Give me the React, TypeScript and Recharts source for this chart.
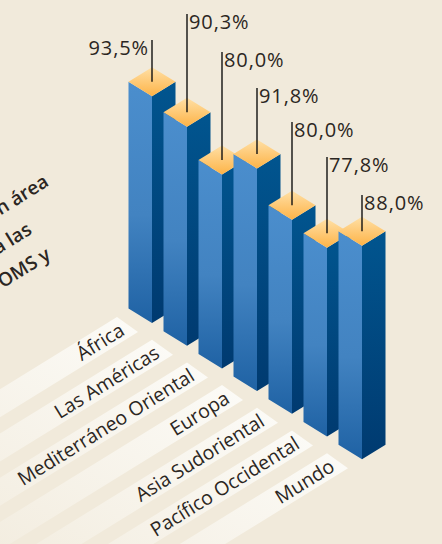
import { BarChart, Bar, XAxis, YAxis, LabelList } from "recharts";

const REGIONS = [
  "África",
  "Las Américas",
  "Mediterráneo Oriental",
  "Europa",
  "Asia Sudoriental",
  "Pacífico Occidental",
  "Mundo",
];
const VALUES = [93.5, 90.3, 80.0, 91.8, 80.0, 77.8, 88.0];
const TITLE_LINES = ["en área", "a las", "OMS y"];

const FONT = "'Open Sans', sans-serif";
const INK = "#2b2622";
const STEP_Y = 22.7; // each column sits lower than the previous one
const BASE_Y = 323;
const SLOPE = 0.617;
const ANGLE = -31.7;
// y where each leader line ends above its column
const LEADER_TOPS = [40, 14, 52, 88, 122, 157, 195];

const data = REGIONS.map((name, i) => ({ name, value: VALUES[i] }));

function IsoColumn(props: any) {
  const { x, y, width, height, index } = props;
  const cx = x + width / 2;
  const half = 23.5;
  const rise = half * SLOPE;
  const dy = index * STEP_Y;
  const top = y + dy;
  const bottom = y + height + dy;
  return (
    <g>
      <polygon
        points={`${cx - half},${top - rise} ${cx},${top} ${cx},${bottom} ${cx - half},${bottom - rise}`}
        fill="url(#front)"
      />
      <polygon
        points={`${cx},${top} ${cx + half},${top - rise} ${cx + half},${bottom - rise} ${cx},${bottom}`}
        fill="url(#side)"
      />
      <polygon
        points={`${cx - half},${top - rise} ${cx},${top - 2 * rise} ${cx + half},${top - rise} ${cx},${top}`}
        fill="url(#cap)"
      />
    </g>
  );
}

function Leader(props: any) {
  const { x, y, width, value, index } = props;
  const cx = x + width / 2;
  const top = LEADER_TOPS[index];
  const bottom = y + index * STEP_Y - 14.5;
  const text = `${Number(value).toFixed(1).replace(".", ",")}%`;
  const first = index === 0;
  return (
    <g>
      <line x1={cx} x2={cx} y1={top} y2={bottom} stroke="#111" strokeWidth={1.4} />
      <text
        x={first ? cx - 3 : cx + 2}
        y={first ? top + 15 : top + 15}
        textAnchor={first ? "end" : "start"}
        fontFamily={FONT}
        fontSize={20}
        letterSpacing={0.9}
        fill={INK}
      >
        {text}
      </text>
    </g>
  );
}

function RibbonTick(props: any) {
  const { x, payload, index } = props;
  const by = BASE_Y + index * STEP_Y;
  const run = 420;
  const drop = run * SLOPE;
  const ax = x - 35;
  const ay = by - 6;
  const bx = x - 14;
  const by2 = by + 9;
  return (
    <g>
      <polygon
        points={`${ax},${ay} ${bx},${by2} ${bx - run},${by2 + drop} ${ax - run},${ay + drop}`}
        fill="url(#ribbon)"
      />
      <text
        transform={`translate(${x - 26},${by + 11}) rotate(${ANGLE})`}
        textAnchor="end"
        fontFamily={FONT}
        fontSize={19.5}
        fill={INK}
      >
        {payload.value}
      </text>
    </g>
  );
}

export default function App() {
  return (
    <div
      style={{
        position: "absolute",
        left: 0,
        top: 0,
        width: 442,
        height: 544,
        background: "#f1eadb",
        overflow: "hidden",
      }}
    >
      <BarChart
        width={442}
        height={544}
        data={data}
        barCategoryGap={0}
        margin={{ top: 80.5, right: 62.5, bottom: 191, left: 134.5 }}
      >
        <defs>
          <linearGradient id="front" x1="0" y1="0" x2="0" y2="1">
            <stop offset="0%" stopColor="#4b8ecd" />
            <stop offset="55%" stopColor="#4283c1" />
            <stop offset="100%" stopColor="#1f62a4" />
          </linearGradient>
          <linearGradient id="side" x1="0" y1="0" x2="0" y2="1">
            <stop offset="0%" stopColor="#01558f" />
            <stop offset="100%" stopColor="#003a70" />
          </linearGradient>
          <linearGradient id="cap" x1="0" y1="0" x2="0" y2="1">
            <stop offset="0%" stopColor="#ffe0a6" />
            <stop offset="100%" stopColor="#fdb347" />
          </linearGradient>
          <linearGradient id="ribbon" x1="1" y1="0" x2="0" y2="1">
            <stop offset="0%" stopColor="#fcfbf7" />
            <stop offset="70%" stopColor="#f1eadb" />
          </linearGradient>
        </defs>
        <XAxis
          dataKey="name"
          axisLine={false}
          tickLine={false}
          height={30}
          interval={0}
          tick={RibbonTick}
        />
        <YAxis hide domain={[0, 100]} />
        <Bar dataKey="value" isAnimationActive={false} shape={IsoColumn}>
          <LabelList dataKey="value" content={Leader} />
        </Bar>
        {TITLE_LINES.map((line, i) => (
          <text
            key={line}
            transform={`translate(${[50, 33, 52][i]},${[185, 233, 258][i]}) rotate(${ANGLE})`}
            textAnchor="end"
            fontFamily={FONT}
            fontWeight={600}
            fontSize={19}
            fill={INK}
          >
            {line}
          </text>
        ))}
      </BarChart>
    </div>
  );
}
